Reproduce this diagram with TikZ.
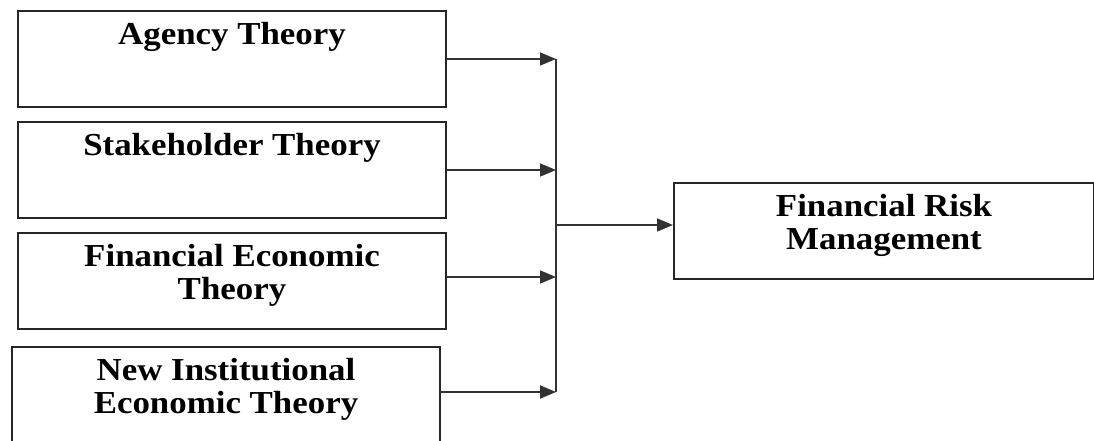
\documentclass[tikz,border=0pt]{standalone}
\usepackage{fontspec}
\setmainfont{Liberation Serif}[FakeStretch=1.09]
\usetikzlibrary{arrows.meta,positioning}

% text set at the top of a box
\newcommand{\boxtext}[1]{\parbox[c][48pt][t]{200pt}{\centering
  \fontsize{16}{16.5}\selectfont\bfseries\rule{0pt}{16.5pt}#1}}

\begin{document}
\begin{tikzpicture}[x=0.5pt, y=-0.5pt]
	\tikzstyle{block} = [rectangle, draw=black!85, line width=1pt,
	inner sep=0pt, minimum width=214pt]
	\tikzstyle{line} = [draw=black!80, -{Triangle[length=8pt,width=6.5pt]}, line width=0.8pt]
	\tikzstyle{bus} = [draw=black!80, line width=0.8pt]
	\useasboundingbox (0,0) rectangle (1094,440);
	% Place nodes
	\node [block, anchor=north west] (agency) at (17,10) {\boxtext{Agency Theory}};
	\node [block, below=6.5pt of agency] (stake) {\boxtext{Stakeholder Theory}};
	\node [block, below=6.5pt of stake] (fin) {\boxtext{Financial Economic\\ Theory}};
	\node [block, below=8pt of fin, xshift=-3pt] (inst) {\boxtext{New Institutional\\ Economic Theory}};
	\node [block, anchor=north west, minimum width=210pt] (risk) at (673,182) {\boxtext{Financial Risk\\ Management}};
	\coordinate (join) at (556,225);
	% Draw edges
	\path [line] (agency.east) -- (agency.east -| join);
	\path [line] (stake.east) -- (stake.east -| join);
	\path [line] ([yshift=2pt]fin.east) -- ([yshift=2pt]fin.east -| join);
	\path [line] ([yshift=1.5pt]inst.east) -- ([yshift=1.5pt]inst.east -| join);
	\path [bus] (agency.east -| join) -- ([yshift=1.5pt]inst.east -| join);
	\path [line] (join) -- (join -| risk.west);
\end{tikzpicture}
\end{document}
